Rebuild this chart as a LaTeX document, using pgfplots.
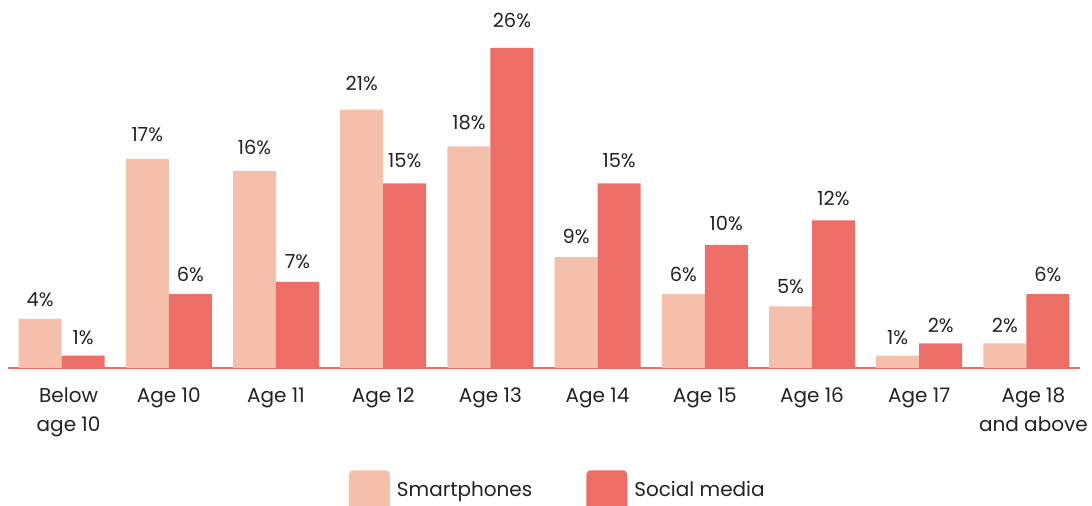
\documentclass[border=0pt]{standalone}
\usepackage{pgfplots}
\pgfplotsset{compat=1.18}
\usepackage{fontspec}
\setmainfont{Poppins}
\definecolor{smart}{HTML}{F4BFAB}
\definecolor{social}{HTML}{EC6E66}
\definecolor{txt}{HTML}{222222}
\begin{document}
\begin{tikzpicture}
\useasboundingbox (0,0) rectangle (546pt,253pt);
\begin{axis}[
  at={(4pt,69pt)}, anchor=south west,
  scale only axis, width=536pt, height=184pt,
  xmin=-0.5, xmax=9.5, ymin=0, ymax=29.9,
  ybar=0pt, bar width=21.5pt,
  axis x line=bottom, axis y line=none,
  x axis line style={draw=social, line width=0.75pt, -},
  xtick={0,...,9},
  xticklabels={{Below\\age 10},Age 10,Age 11,Age 12,Age 13,Age 14,Age 15,Age 16,Age 17,{Age 18\\and above}},
  xticklabel style={align=center, font=\fontsize{10}{14.5}\selectfont, text=txt, anchor=north, inner sep=0pt, yshift=-9.8pt,
    xshift={ifthenelse(\ticknum==0||\ticknum==9,3.5,0)*1pt}},
  major tick length=0pt,
  ytick=\empty,
  /pgf/number format/assume math mode=true,
  nodes near coords={\pgfmathprintnumber{\pgfplotspointmeta}\%},
  every node near coord/.append style={font=\fontsize{9.7}{11}\selectfont, text=txt, anchor=base, inner sep=0pt},
  every node near coord/.append code={%
    \pgfmathfloattofixed{\pgfplotspointmeta}%
    \pgfmathsetmacro\myshift{5.3+0.19*\pgfmathresult}%
    \pgfkeysalso{/tikz/yshift=\myshift pt}},
  legend style={at={(0.5138,0)}, anchor=north, yshift=-51pt, draw=none, fill=none, inner sep=0pt,
    font=\fontsize{10}{11}\selectfont, text=txt, legend columns=2,
    /tikz/every odd column/.append style={column sep=1.5pt},
    /tikz/every even column/.append style={column sep=25pt}},
  legend image code/.code={\fill[#1, rounded corners=2pt] (0pt,-10pt) rectangle (20.5pt,10pt);},
]
\addplot[fill=smart, draw=none] coordinates {(0,4) (1,17) (2,16) (3,21) (4,18) (5,9) (6,6) (7,5) (8,1) (9,2)};
\addplot[fill=social, draw=none] coordinates {(0,1) (1,6) (2,7) (3,15) (4,26) (5,15) (6,10) (7,12) (8,2) (9,6)};
\legend{Smartphones, Social media}
\end{axis}
\end{tikzpicture}
\end{document}
